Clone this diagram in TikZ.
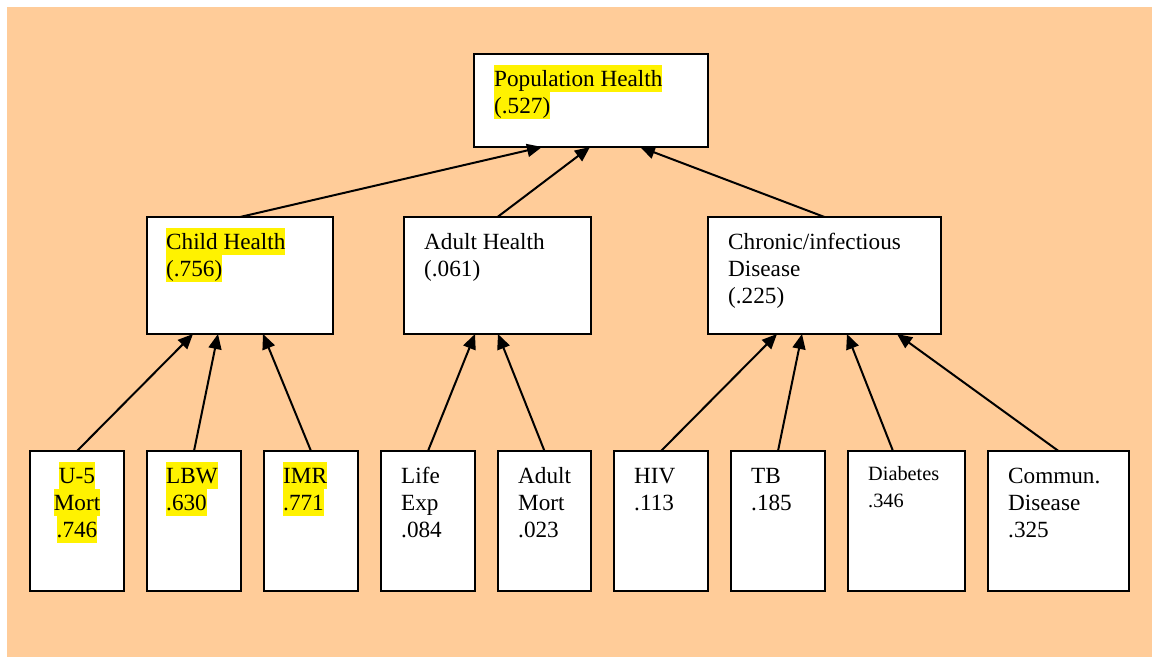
\documentclass[tikz,border=0pt]{standalone}
\usepackage{fontspec}
\setmainfont{Liberation Serif}
\usetikzlibrary{arrows.meta}
\definecolor{peach}{RGB}{255,204,153}
% line strut: 21.5pt above the baseline, 5.5pt below, so highlighted lines touch
\newcommand{\lstrut}{\rule[-5.5pt]{0pt}{27pt}}
\newcommand{\hlt}[1]{{\setlength{\fboxsep}{0pt}\colorbox{yellow}{\lstrut#1}}}
\newcommand{\pln}[1]{\lstrut#1}
\begin{document}
\begin{tikzpicture}[x=1pt,y=-1pt,
  box/.style={draw=black,line width=2.3pt,fill=white,inner sep=0pt,outer sep=0pt,anchor=north west},
  txt/.style={inner sep=0pt,anchor=north west,align=left,font=\fontsize{23.2pt}{27pt}\selectfont},
  ctxt/.style={txt,anchor=north,align=center},
  stxt/.style={txt,font=\fontsize{20.3pt}{27pt}\selectfont},
  arr/.style={draw=black,line width=2pt,-{Triangle[length=15pt,width=13pt]}}]
\useasboundingbox (0,0) rectangle (1156,657);
\fill[peach] (7,7) rectangle (1152,657);

% top level
\node[box,minimum width=234pt,minimum height=93pt] (pop) at (474,54) {};
% middle level
\node[box,minimum width=186pt,minimum height=117pt] (child) at (147,217) {};
\node[box,minimum width=187pt,minimum height=117pt] (adult) at (404,217) {};
\node[box,minimum width=233pt,minimum height=117pt] (chron) at (708,217) {};
% indicator level
\node[box,minimum width=94pt,minimum height=140pt] (u5) at (30,451) {};
\node[box,minimum width=94pt,minimum height=140pt] (lbw) at (147,451) {};
\node[box,minimum width=94pt,minimum height=140pt] (imr) at (264,451) {};
\node[box,minimum width=94pt,minimum height=140pt] (life) at (381,451) {};
\node[box,minimum width=93pt,minimum height=140pt] (amort) at (498,451) {};
\node[box,minimum width=94pt,minimum height=140pt] (hiv) at (614,451) {};
\node[box,minimum width=94pt,minimum height=140pt] (tb) at (731,451) {};
\node[box,minimum width=117pt,minimum height=140pt] (diab) at (848,451) {};
\node[box,minimum width=141pt,minimum height=140pt] (comm) at (988,451) {};

% labels
\node[txt] (popt) at (494,64.5) {\hlt{Population Health}\\\hlt{(.527)}};
\node[txt] (childt) at (166,227.5) {\hlt{Child Health}\\\hlt{(.756)}};
\node[txt] (adultt) at (424,227.5) {\pln{Adult Health}\\\pln{(.061)}};
\node[txt] (chront) at (728,227.5) {\pln{Chronic/infectious}\\\pln{Disease}\\\pln{(.225)}};
\node[ctxt] (u5t) at (77,461.5) {\hlt{U-5}\\\hlt{Mort}\\\hlt{.746}};
\node[txt] (lbwt) at (166,461.5) {\hlt{LBW}\\\hlt{.630}};
\node[txt] (imrt) at (283,461.5) {\hlt{IMR}\\\hlt{.771}};
\node[txt] (lifet) at (401,461.5) {\pln{Life}\\\pln{Exp}\\\pln{.084}};
\node[txt] (amortt) at (518,461.5) {\pln{Adult}\\\pln{Mort}\\\pln{.023}};
\node[txt] (hivt) at (634,461.5) {\pln{HIV}\\\pln{.113}};
\node[txt] (tbt) at (751,461.5) {\pln{TB}\\\pln{.185}};
\node[stxt] (diabt) at (868,458.5) {\pln{Diabetes}\\\pln{.346}};
\node[txt] (commt) at (1008,461.5) {\pln{Commun.}\\\pln{Disease}\\\pln{.325}};

% connectors
\draw[arr] (child.north) -- ([xshift=-49pt]pop.south);
\draw[arr] (adult.north) -- ([xshift=-1pt]pop.south);
\draw[arr] (chron.north) -- ([xshift=49pt]pop.south);

\draw[arr] (u5.north) -- ([xshift=-47pt]child.south);
\draw[arr] (lbw.north) -- ([xshift=-22pt]child.south);
\draw[arr] (imr.north) -- ([xshift=23pt]child.south);

\draw[arr] (life.north) -- ([xshift=-22.5pt]adult.south);
\draw[arr] (amort.north) -- ([xshift=0.5pt]adult.south);

\draw[arr] (hiv.north) -- ([xshift=-47.5pt]chron.south);
\draw[arr] (tb.north) -- ([xshift=-22.5pt]chron.south);
\draw[arr] ([xshift=-13.5pt]diab.north) -- ([xshift=22.5pt]chron.south);
\draw[arr] (comm.north) -- ([xshift=72.5pt]chron.south);
\end{tikzpicture}
\end{document}
